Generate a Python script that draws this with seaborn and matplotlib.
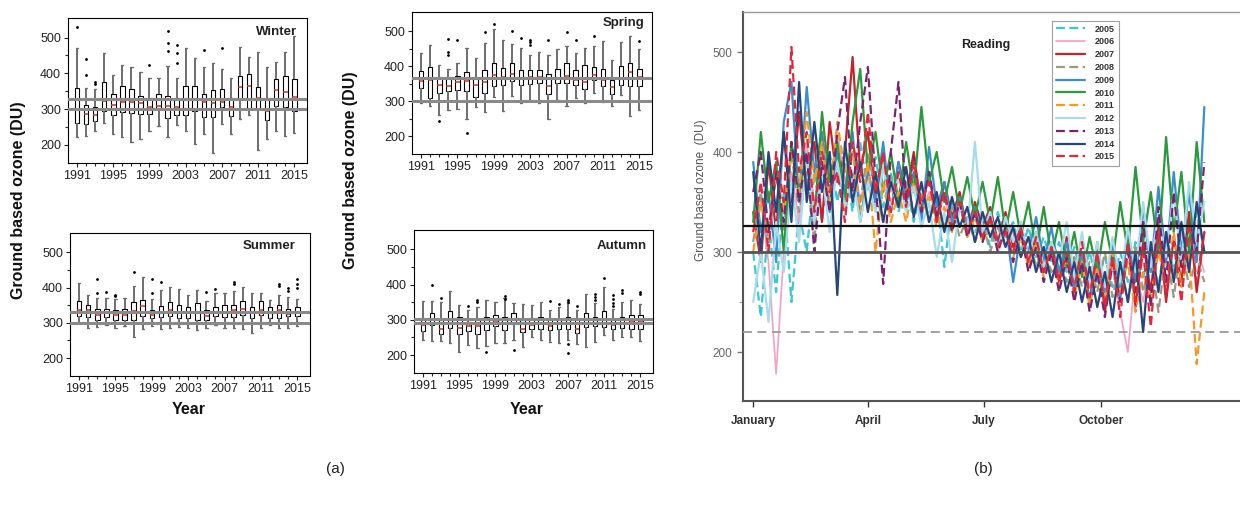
import numpy as np
import pandas as pd
import matplotlib.pyplot as plt
import seaborn as sns

# ---------------- data: seasonal box plots (lo whisker, q1, median, q3, hi whisker) ----------------
years = list(range(1991, 2016))
year_labels = [str(y) for y in years]

winter_stats = [
    (222, 261, 298, 358, 470), (226, 259, 287, 311, 358), (238, 267, 284, 306, 355),
    (262, 295, 322, 377, 458), (231, 283, 311, 341, 395), (222, 292, 320, 364, 423),
    (208, 289, 320, 355, 418), (217, 287, 317, 336, 404), (239, 285, 306, 331, 388),
    (252, 304, 308, 341, 387), (222, 276, 308, 337, 420), (254, 284, 306, 327, 388),
    (239, 283, 329, 364, 470), (201, 294, 329, 364, 442), (231, 279, 320, 342, 418),
    (177, 278, 317, 353, 428), (259, 306, 320, 355, 412), (231, 280, 306, 331, 386),
    (273, 328, 362, 392, 473), (282, 300, 364, 398, 447), (186, 300, 330, 362, 459),
    (217, 270, 294, 331, 417), (240, 308, 353, 385, 432), (226, 306, 348, 392, 459),
    (233, 294, 334, 385, 505),
]
winter_out = [(1991, 529), (1992, 440), (1992, 394), (1993, 376), (1993, 370), (1999, 424),
              (2001, 518), (2001, 485), (2001, 462), (2002, 478), (2002, 457), (2002, 430),
              (2005, 465), (2007, 472)]

spring_stats = [
    (294, 337, 358, 386, 438), (287, 308, 362, 398, 461), (261, 323, 346, 370, 403),
    (275, 330, 343, 368, 391), (277, 332, 355, 372, 408), (250, 330, 358, 384, 452),
    (283, 311, 346, 370, 424), (268, 323, 354, 389, 467), (311, 343, 375, 409, 505),
    (273, 346, 370, 396, 474), (315, 358, 377, 408, 464), (294, 346, 365, 389, 452),
    (304, 348, 370, 389, 433), (296, 351, 370, 389, 441), (249, 320, 342, 379, 433),
    (304, 351, 365, 391, 450), (287, 353, 372, 408, 457), (308, 346, 360, 389, 438),
    (294, 334, 355, 403, 452), (323, 360, 375, 398, 458), (298, 343, 360, 393, 471),
    (287, 320, 340, 362, 417), (318, 346, 365, 400, 469), (258, 342, 384, 409, 485),
    (274, 343, 370, 391, 450),
]
spring_out = [(1993, 244), (1994, 477), (1994, 440), (1994, 432), (1995, 475), (1996, 210),
              (1998, 498), (1999, 522), (2001, 500), (2002, 482), (2003, 476), (2003, 468),
              (2003, 460), (2005, 475), (2007, 498), (2008, 476), (2010, 487), (2015, 472)]

summer_stats = [
    (300, 318, 337, 363, 412), (286, 317, 335, 350, 380), (288, 309, 323, 339, 370),
    (295, 316, 328, 339, 370), (286, 309, 323, 337, 367), (292, 307, 323, 339, 370),
    (260, 309, 333, 360, 405), (283, 320, 348, 365, 429), (290, 314, 323, 337, 368),
    (283, 317, 328, 348, 394), (286, 318, 337, 360, 403), (288, 314, 330, 351, 396),
    (286, 314, 328, 345, 380), (279, 309, 330, 356, 394), (286, 309, 318, 335, 363),
    (295, 318, 330, 345, 384), (286, 317, 330, 351, 384), (286, 316, 335, 350, 389),
    (283, 323, 339, 361, 403), (271, 314, 330, 345, 384), (286, 323, 335, 361, 386),
    (295, 314, 328, 345, 365), (286, 314, 337, 350, 380), (286, 318, 326, 340, 373),
    (292, 318, 328, 344, 367),
]
summer_out = [(1993, 425), (1993, 385), (1994, 388), (1995, 380), (1995, 375), (1997, 445),
              (1999, 423), (1999, 385), (2000, 415), (2005, 387), (2006, 395), (2008, 415),
              (2008, 410), (2013, 410), (2013, 405), (2014, 398), (2014, 390), (2015, 425),
              (2015, 410), (2015, 400)]

autumn_stats = [
    (244, 268, 285, 306, 353), (241, 285, 299, 320, 353), (241, 261, 275, 299, 351),
    (235, 278, 299, 325, 382), (209, 261, 278, 307, 342), (228, 268, 282, 294, 329),
    (219, 261, 282, 299, 335), (225, 271, 288, 307, 356), (235, 282, 294, 313, 351),
    (233, 271, 288, 308, 363), (244, 288, 299, 318, 348), (222, 266, 275, 299, 346),
    (252, 273, 285, 304, 342), (244, 273, 290, 307, 351), (238, 271, 282, 304, 329),
    (233, 273, 288, 303, 335), (244, 275, 290, 308, 348), (231, 263, 273, 301, 327),
    (222, 280, 299, 318, 374), (238, 282, 288, 308, 348), (257, 280, 299, 325, 392),
    (242, 275, 285, 299, 332), (252, 277, 290, 307, 351), (250, 275, 294, 313, 356),
    (241, 275, 294, 313, 344),
]
autumn_out = [(1992, 400), (1993, 362), (1996, 340), (1997, 357), (1997, 350), (1998, 210),
              (2000, 368), (2000, 360), (2001, 215), (2005, 353), (2006, 344), (2007, 357),
              (2007, 352), (2007, 232), (2007, 205), (2008, 340), (2010, 372), (2010, 365),
              (2010, 357), (2011, 420), (2012, 370), (2012, 358), (2012, 348), (2012, 338),
              (2013, 385), (2013, 375), (2015, 378), (2015, 372)]

# seasonal reference lines
winter_ref = [300, 327]
spring_ref = [300, 366]
summer_ref = [300, 332]
autumn_ref = [291, 301]

# ---------------- data: daily ozone at Reading (sampled every 6 days) ----------------
days = list(range(1, 356, 6))
series_years = [2005, 2006, 2007, 2008, 2009, 2010, 2011, 2012, 2013, 2014, 2015]
oz_2005 = [300, 235, 330, 260, 360, 250, 340, 300, 380, 330, 400, 350, 390, 340, 410, 360, 395, 345, 380, 340,
           370, 330, 365, 340, 355, 285, 350, 325, 345, 320, 335, 305, 340, 315, 330, 300, 325, 295, 315, 290,
           310, 280, 305, 275, 300, 270, 295, 265, 300, 270, 310, 275, 300, 265, 320, 280, 330, 285, 340, 300]
oz_2006 = [320, 350, 290, 178, 300, 380, 330, 410, 350, 390, 340, 420, 370, 400, 350, 385, 345, 400, 360, 380,
           350, 375, 340, 360, 335, 355, 325, 345, 320, 340, 315, 335, 310, 330, 305, 320, 295, 315, 285, 310,
           280, 305, 270, 300, 265, 290, 255, 285, 240, 200, 280, 250, 300, 265, 310, 275, 320, 290, 305, 280]
oz_2007 = [340, 290, 390, 320, 420, 350, 440, 360, 410, 330, 430, 370, 400, 495, 380, 420, 350, 400, 340, 390,
           355, 400, 340, 380, 330, 370, 335, 360, 320, 350, 325, 345, 310, 340, 305, 330, 290, 320, 280, 310,
           270, 315, 260, 300, 250, 310, 240, 300, 255, 320, 245, 310, 260, 330, 250, 315, 270, 340, 260, 320]
oz_2008 = [310, 360, 300, 380, 320, 400, 340, 380, 310, 420, 360, 390, 340, 380, 350, 400, 360, 330, 375, 345,
           370, 340, 360, 330, 350, 325, 345, 315, 335, 310, 330, 300, 325, 305, 320, 295, 315, 285, 305, 280,
           300, 270, 295, 265, 290, 260, 300, 255, 290, 250, 305, 260, 295, 240, 300, 255, 310, 265, 295, 270]
oz_2009 = [390, 320, 360, 290, 430, 470, 350, 465, 380, 420, 340, 400, 360, 420, 330, 380, 350, 410, 340, 390,
           350, 380, 330, 405, 345, 370, 330, 355, 320, 345, 315, 340, 305, 330, 270, 320, 300, 335, 290, 325,
           280, 310, 265, 300, 250, 295, 260, 310, 255, 320, 270, 345, 280, 365, 290, 380, 300, 360, 290, 445]
oz_2010 = [330, 420, 350, 390, 300, 410, 360, 400, 330, 440, 370, 410, 350, 430, 483, 380, 420, 360, 400, 350,
           410, 360, 445, 370, 400, 350, 385, 340, 375, 335, 370, 330, 375, 320, 360, 315, 350, 300, 345, 295,
           330, 285, 320, 275, 315, 280, 330, 290, 350, 300, 385, 310, 360, 300, 415, 320, 380, 300, 410, 330]
oz_2011 = [300, 350, 320, 380, 340, 400, 360, 440, 370, 410, 350, 430, 380, 400, 340, 390, 300, 370, 330, 360,
           330, 370, 340, 355, 325, 345, 320, 350, 315, 335, 310, 330, 300, 325, 295, 315, 285, 310, 275, 300,
           265, 295, 255, 290, 245, 285, 250, 300, 260, 290, 240, 280, 255, 300, 270, 320, 265, 300, 188, 260]
oz_2012 = [250, 300, 230, 330, 280, 370, 310, 400, 330, 380, 320, 390, 345, 375, 330, 370, 340, 385, 345, 375,
           340, 365, 325, 350, 295, 340, 290, 345, 320, 410, 320, 340, 300, 335, 310, 330, 295, 320, 285, 310,
           290, 330, 275, 320, 270, 310, 265, 315, 270, 325, 280, 350, 285, 340, 295, 360, 290, 370, 310, 350]
oz_2013 = [360, 400, 320, 380, 330, 410, 350, 400, 300, 390, 340, 420, 475, 360, 430, 485, 370, 268, 400, 470,
           350, 395, 340, 380, 335, 360, 320, 350, 315, 340, 310, 335, 300, 325, 290, 320, 280, 305, 270, 300,
           260, 295, 250, 290, 240, 280, 235, 290, 250, 300, 260, 330, 245, 345, 270, 360, 285, 330, 300, 390]
oz_2014 = [380, 300, 400, 340, 420, 330, 470, 350, 430, 360, 400, 257, 410, 350, 390, 340, 380, 330, 370, 345,
           385, 335, 370, 330, 360, 320, 355, 325, 345, 310, 340, 315, 335, 305, 325, 295, 315, 280, 305, 270,
           300, 260, 290, 250, 285, 245, 280, 235, 290, 250, 300, 220, 310, 260, 320, 270, 330, 280, 350, 300]
oz_2015 = [320, 370, 300, 400, 350, 505, 380, 420, 340, 400, 360, 380, 330, 410, 370, 440, 360, 400, 340, 380,
           345, 390, 350, 370, 330, 360, 325, 350, 320, 340, 315, 335, 305, 320, 300, 325, 290, 315, 280, 305,
           270, 300, 260, 310, 255, 300, 245, 295, 235, 310, 250, 300, 225, 320, 260, 310, 250, 330, 270, 320]
series_values = [oz_2005, oz_2006, oz_2007, oz_2008, oz_2009, oz_2010,
                 oz_2011, oz_2012, oz_2013, oz_2014, oz_2015]
series_colors = ['#3cc8d2', '#f4a0c4', '#c8232d', '#9a9a80', '#3a8fd0', '#2a9a3a',
                 '#f39a2a', '#a8dcec', '#7a2470', '#24467a', '#e0283a']
series_dashed = [True, False, False, True, False, False, True, False, True, False, True]

month_ticks = [1, 91, 182, 274]
month_labels = ['January', 'April', 'July', 'October']

# ---------------- figure ----------------
sns.set_theme(style='ticks')
plt.rcParams['font.family'] = ['Liberation Sans', 'DejaVu Sans']

W, H = 1240, 508
fig = plt.figure(figsize=(W / 100, H / 100), dpi=100)


def px_axes(left, top, right, bottom):
    return fig.add_axes([left / W, 1 - bottom / H, (right - left) / W, (bottom - top) / H])


def draw_season(ax, stats, outliers, refs, title, tx, ty):
    df = pd.DataFrame({
        'year': [lab for lab in year_labels for _ in range(5)],
        'ozone': [v for row in stats for v in row],
    })
    sns.boxplot(data=df, x='year', y='ozone', order=year_labels, whis=(0, 100),
                width=0.5, color='white', linecolor='black', linewidth=0.8,
                fliersize=0, ax=ax,
                medianprops=dict(color='#c0392b', linewidth=1.1),
                whiskerprops=dict(color='#6e6e6e', linewidth=1.4),
                capprops=dict(color='#6e6e6e', linewidth=1.0))
    out_df = pd.DataFrame({'year': [str(y) for y, _ in outliers],
                           'ozone': [v for _, v in outliers]})
    sns.stripplot(data=out_df, x='year', y='ozone', order=year_labels, jitter=False,
                  color='black', size=2, ax=ax)
    for r in refs:
        ax.axhline(r, color='#8a8a8a', linewidth=2.2, zorder=3)
    ax.set_xlim(-1, 25.4)
    ax.set_ylim(149, 555)
    ax.set_yticks([200, 300, 400, 500])
    ax.set_yticks([250, 350, 450], minor=True)
    ax.set_xticks(range(0, 25, 4))
    ax.set_xticklabels(year_labels[::4])
    ax.set_xticks(range(25), minor=True)
    ax.tick_params(axis='both', which='major', labelsize=9, length=3, width=0.8,
                   colors='#222222', pad=2)
    ax.tick_params(axis='both', which='minor', length=2, width=0.8)
    ax.set_xlabel('')
    ax.set_ylabel('')
    for s in ax.spines.values():
        s.set_visible(True)
        s.set_color('black')
        s.set_linewidth(0.8)
    ax.text(tx, ty, title, transform=ax.transAxes, ha='right', va='center',
            fontsize=9.5, fontweight='bold', color='#222222')


ax_w = px_axes(68, 18, 307, 163)
ax_sp = px_axes(412, 12, 652, 154)
ax_su = px_axes(70, 233, 310, 376)
ax_au = px_axes(414, 230, 653, 373)
draw_season(ax_w, winter_stats, winter_out, winter_ref, 'Winter', 0.958, 0.90)
draw_season(ax_sp, spring_stats, spring_out, spring_ref, 'Spring', 0.97, 0.92)
draw_season(ax_su, summer_stats, summer_out, summer_ref, 'Summer', 0.94, 0.91)
draw_season(ax_au, autumn_stats, autumn_out, autumn_ref, 'Autumn', 0.975, 0.89)

fig.text(19 / W, 1 - 200 / H, 'Ground based ozone (DU)', rotation=90, ha='center', va='center',
         fontsize=11.5, fontweight='bold', color='#111111')
fig.text(351 / W, 1 - 170 / H, 'Ground based ozone (DU)', rotation=90, ha='center', va='center',
         fontsize=11.5, fontweight='bold', color='#111111')
fig.text(189 / W, 1 - 409 / H, 'Year', ha='center', va='center', fontsize=11.5,
         fontweight='bold', color='#111111')
fig.text(527 / W, 1 - 409 / H, 'Year', ha='center', va='center', fontsize=11.5,
         fontweight='bold', color='#111111')
fig.text(335 / W, 1 - 469 / H, '(a)', ha='center', va='center', fontsize=11, color='#222222')
fig.text(983 / W, 1 - 469 / H, '(b)', ha='center', va='center', fontsize=11, color='#222222')

# ---------------- right panel: daily series ----------------
ax_r = px_axes(743, 12, 1240, 401)
for yr, vals, col, dashed in zip(series_years, series_values, series_colors, series_dashed):
    ls = (0, (4, 2)) if dashed else '-'
    lw = 1.2 if yr == 2006 else 1.6
    sns.lineplot(x=days, y=vals, color=col, linestyle=ls, linewidth=lw,
                 label=str(yr), errorbar=None, ax=ax_r)

ax_r.axhline(326, color='#111111', linewidth=1.6, zorder=5)
ax_r.axhline(300, color='#555555', linewidth=2.0, zorder=5)
ax_r.axhline(220, color='#9a9a9a', linewidth=1.3, linestyle=(0, (5, 3)), zorder=5)

ax_r.set_xlim(-7, 383)
ax_r.set_ylim(151, 540)
ax_r.set_xticks(month_ticks)
ax_r.set_xticklabels(month_labels, fontweight='bold')
ax_r.set_yticks([200, 300, 400, 500])
ax_r.set_yticks([250, 350, 450], minor=True)
ax_r.tick_params(axis='x', labelsize=8.5, colors='#333333', length=4, width=1, pad=6)
ax_r.tick_params(axis='y', which='major', labelsize=8.5, labelcolor='#666666', color='#777777',
                 length=4, width=1)
ax_r.tick_params(axis='y', which='minor', color='#999999', length=3, width=0.8)
ax_r.set_xlabel('')
ax_r.set_ylabel('')
ax_r.spines['right'].set_visible(False)
ax_r.spines['top'].set_color('#999999')
ax_r.spines['top'].set_linewidth(1.0)
ax_r.spines['left'].set_color('#555555')
ax_r.spines['left'].set_linewidth(1.5)
ax_r.spines['bottom'].set_color('#555555')
ax_r.spines['bottom'].set_linewidth(1.5)

leg = ax_r.legend(loc='upper left', bbox_to_anchor=(1047 / W, 1 - 16 / H),
                  bbox_transform=fig.transFigure, fontsize=6.5, frameon=True,
                  fancybox=False, handlelength=3.3, handletextpad=1.0,
                  labelspacing=0.42, borderpad=0.45)
leg.get_frame().set_edgecolor('#888888')
leg.get_frame().set_linewidth(0.8)
for t in leg.get_texts():
    t.set_fontweight('bold')
    t.set_color('#333333')

fig.text(986 / W, 1 - 45 / H, 'Reading', ha='center', va='center', fontsize=9,
         fontweight='bold', color='#222222')
fig.text(701 / W, 1 - 190 / H, 'Ground based ozone  (DU)', rotation=90, ha='center',
         va='center', fontsize=8.5, color='#555555')

fig.savefig('out.png', dpi=100)
